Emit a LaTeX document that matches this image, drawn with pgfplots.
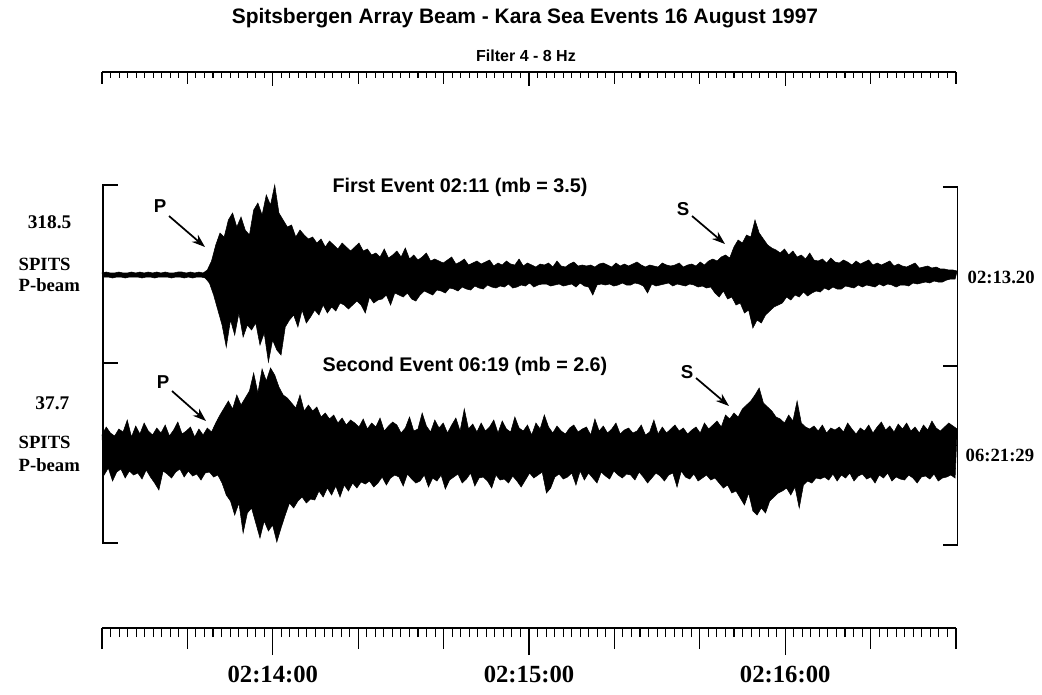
\documentclass[border=0pt]{standalone}
\usepackage{fontspec}
\setmainfont{Liberation Serif}
\newfontfamily\hv{Liberation Sans}
\usepackage{pgfplots}
\pgfplotsset{compat=1.18}
\usepackage{pgfplotstable}
\usepgfplotslibrary{fillbetween}
\usetikzlibrary{arrows.meta}

% signed amplitudes (px) of the envelope: positive = upward swing, negative = downward swing
% first event (trace starts 02:13:20)
\pgfplotstableread[row sep=\\]{a\\%
2\\-2\\3\\-2\\2\\-3\\2\\-2\\3\\-2\\%
2\\-3\\2\\-2\\3\\-2\\2\\-2\\3\\-3\\%
2\\-2\\3\\-2\\2\\-3\\3\\-2\\2\\-2\\%
3\\-2\\2\\-3\\2\\-2\\3\\-2\\3\\-3\\%
2\\-2\\3\\-3\\2\\-2\\3\\-2\\2\\-3\\%
5\\-8\\14\\-20\\30\\-35\\42\\-50\\38\\-72\\%
55\\-45\\62\\-60\\48\\-38\\58\\-62\\45\\-50\\%
40\\-55\\65\\-48\\72\\-70\\60\\-58\\80\\-87\\%
70\\-65\\90\\-75\\62\\-80\\55\\-52\\48\\-45\\%
50\\-40\\38\\-52\\45\\-35\\40\\-48\\36\\-42\\%
38\\-35\\32\\-40\\36\\-30\\28\\-38\\34\\-32\\%
30\\-36\\26\\-28\\32\\-30\\28\\-34\\24\\-30\\%
28\\-26\\32\\-30\\24\\-38\\26\\-22\\20\\-28\\%
22\\-25\\18\\-24\\26\\-20\\17\\-30\\20\\-18\\%
24\\-20\\18\\-22\\27\\-18\\16\\-24\\20\\-26\\%
15\\-20\\18\\-16\\22\\-18\\14\\-20\\16\\-15\\%
14\\-16\\12\\-18\\15\\-13\\18\\-14\\11\\-16\\%
13\\-12\\16\\-14\\10\\-15\\12\\-11\\14\\-13\\%
11\\-14\\13\\-10\\15\\-12\\9\\-13\\12\\-11\\%
10\\-12\\14\\-9\\11\\-13\\10\\-12\\16\\-10\\%
9\\-11\\12\\-8\\10\\-12\\8\\-10\\11\\-9\\%
10\\-9\\12\\-11\\8\\-10\\14\\-9\\9\\-11\\%
8\\-10\\11\\-9\\13\\-12\\9\\-8\\10\\-11\\%
9\\-12\\10\\-20\\8\\-10\\11\\-9\\12\\-10\\%
10\\-9\\8\\-11\\12\\-10\\9\\-8\\11\\-10\\%
9\\-10\\11\\-8\\13\\-9\\10\\-11\\8\\-18\\%
10\\-9\\9\\-11\\8\\-10\\12\\-9\\10\\-8\\%
9\\-11\\10\\-9\\12\\-10\\8\\-11\\10\\-9\\%
11\\-10\\9\\-12\\13\\-11\\10\\-13\\14\\-12\\%
16\\-18\\14\\-22\\18\\-16\\20\\-24\\17\\-22\\%
28\\-30\\35\\-28\\32\\-38\\40\\-35\\38\\-53\\%
55\\-45\\42\\-48\\36\\-40\\30\\-36\\27\\-32\\%
25\\-30\\22\\-28\\26\\-22\\20\\-25\\24\\-20\\%
18\\-22\\20\\-17\\16\\-21\\22\\-18\\15\\-16\\%
14\\-17\\16\\-13\\12\\-15\\17\\-12\\13\\-14\\%
12\\-14\\15\\-11\\13\\-12\\10\\-13\\14\\-10\\%
11\\-12\\13\\-10\\15\\-11\\10\\-12\\12\\-9\\%
10\\-11\\12\\-9\\14\\-10\\9\\-12\\11\\-10\\%
9\\-10\\8\\-11\\10\\-8\\12\\-9\\7\\-8\\%
8\\-7\\9\\-8\\7\\-6\\8\\-7\\6\\-7\\%
6\\-5\\5\\-4\\5\\-4\\4\\%
}\trA

% second event
\pgfplotstableread[row sep=\\]{a\\%
18\\-22\\26\\-15\\20\\-28\\17\\-19\\24\\-16\\%
21\\-25\\33\\-18\\16\\-22\\27\\-20\\19\\-26\\%
30\\-17\\22\\-24\\18\\-30\\25\\-37\\20\\-18\\%
28\\-21\\17\\-25\\23\\-19\\31\\-16\\19\\-24\\%
22\\-18\\26\\-23\\16\\-21\\24\\-27\\18\\-20\\%
25\\-19\\21\\-24\\30\\-22\\38\\-30\\45\\-42\\%
52\\-48\\44\\-62\\58\\-50\\48\\-80\\55\\-60\\%
62\\-55\\80\\-70\\60\\-85\\84\\-68\\72\\-78\\%
85\\-72\\78\\-89\\66\\-75\\58\\-62\\55\\-50\\%
50\\-55\\45\\-48\\58\\-44\\42\\-50\\48\\-46\\%
42\\-47\\46\\-38\\36\\-44\\40\\-35\\34\\-42\\%
38\\-33\\30\\-44\\35\\-32\\28\\-38\\33\\-30\\%
30\\-35\\26\\-29\\34\\-31\\24\\-28\\30\\-34\\%
26\\-30\\35\\-24\\22\\-32\\27\\-25\\31\\-22\\%
28\\-24\\20\\-33\\25\\-21\\36\\-26\\22\\-30\\%
24\\-28\\40\\-22\\27\\-34\\21\\-25\\33\\-28\\%
25\\-22\\30\\-36\\20\\-27\\28\\-24\\35\\-21\\%
22\\-30\\44\\-26\\24\\-20\\29\\-33\\21\\-25\\%
30\\-24\\22\\-28\\26\\-35\\33\\-22\\20\\-27\\%
32\\-26\\24\\-30\\21\\-23\\36\\-28\\25\\-34\\%
22\\-27\\28\\-20\\18\\-25\\30\\-22\\24\\-19\\%
38\\-40\\26\\-35\\20\\-24\\27\\-21\\22\\-26\\%
19\\-24\\25\\-20\\28\\-32\\21\\-18\\24\\-27\\%
26\\-20\\18\\-25\\34\\-30\\22\\-19\\27\\-23\\%
20\\-26\\24\\-18\\30\\-22\\19\\-25\\23\\-21\\%
25\\-22\\20\\-27\\22\\-19\\28\\-24\\18\\-30\\%
21\\-25\\33\\-20\\19\\-23\\26\\-28\\20\\-22\\%
24\\-20\\28\\-34\\22\\-18\\25\\-24\\19\\-26\\%
23\\-21\\26\\-28\\20\\-25\\30\\-22\\24\\-27\\%
28\\-25\\32\\-30\\26\\-35\\38\\-32\\34\\-40\\%
40\\-38\\36\\-45\\44\\-52\\48\\-40\\52\\-58\\%
58\\-62\\65\\-55\\50\\-60\\46\\-48\\42\\-44\\%
36\\-40\\34\\-38\\30\\-35\\38\\-42\\32\\-34\\%
52\\-55\\30\\-32\\26\\-28\\24\\-30\\27\\-25\\%
22\\-26\\28\\-24\\20\\-27\\25\\-21\\23\\-28\\%
26\\-22\\21\\-25\\30\\-20\\24\\-28\\19\\-23\\%
25\\-21\\22\\-26\\28\\-24\\20\\-30\\26\\-22\\%
31\\-25\\23\\-20\\27\\-28\\21\\-24\\29\\-26\\%
24\\-27\\30\\-22\\22\\-25\\26\\-30\\20\\-24\\%
28\\-23\\23\\-26\\32\\-21\\25\\-28\\22\\-25\\%
26\\-24\\30\\-22\\27\\-25\\24\\%
}\trB

\pgfplotsset{
  upper env/.style={draw=none, x filter/.code={\ifodd\coordindex\relax\def\pgfmathresult{}\fi}},
  lower env/.style={draw=none, x filter/.code={\ifodd\coordindex\relax\else\def\pgfmathresult{}\fi}},
}

\begin{document}
\begin{tikzpicture}
\path (0pt,0pt) rectangle (781.5pt,-520.5pt);

% bottom ruler + traces  (1 px = 0.75 pt; y data = -pixel row)
\begin{axis}[
  at={(76.5pt,-471pt)}, anchor=south west,
  scale only axis, width=640.5pt, height=417pt,
  xmin=0, xmax=200, ymin=-628, ymax=-72,
  clip=false, no markers,
  axis x line=bottom, axis y line=none,
  x axis line style={-, line width=1.1pt},
  xtick={0,20,...,200}, xticklabels={},
  minor x tick num=9,
  xtick align=outside,
  major tick length=15.75pt, minor tick length=6.75pt,
  every tick/.style={black, line width=0.8pt},
  extra x ticks={40,100,160}, extra x tick labels={},
  extra x tick style={major tick length=20.25pt},
]
% first event trace
\addplot[upper env, name path=aU] table[x index=0, y index=0, x expr=\coordindex*0.4933, y expr=-275+\thisrow{a}] {\trA};
\addplot[lower env, name path=aL] table[x index=0, y index=0, x expr=\coordindex*0.4933, y expr=-275+\thisrow{a}] {\trA};
\addplot[black, draw=black, line width=0.4pt] fill between[of=aU and aL];
% second event trace
\addplot[upper env, name path=bU] table[x index=0, y index=0, x expr=\coordindex*0.4933, y expr=-453+\thisrow{a}] {\trB};
\addplot[lower env, name path=bL] table[x index=0, y index=0, x expr=\coordindex*0.4933, y expr=-453+\thisrow{a}] {\trB};
\addplot[black, draw=black, line width=0.4pt] fill between[of=bU and bL];
% brackets
\addplot[black, line width=1pt] coordinates {(3.7,-185) (0.23,-185) (0.23,-543) (3.7,-543)};
\addplot[black, line width=1pt] coordinates {(0.23,-363) (3.7,-363)};
\addplot[black, line width=1pt] coordinates {(196.9,-187) (200.3,-187) (200.3,-545) (196.9,-545)};
\addplot[black, line width=1pt] coordinates {(200.3,-366) (196.9,-366)};
% time labels
\node[font=\bfseries\fontsize{18.5}{20}\selectfont] at (axis cs:40,-674) {02:14:00};
\node[font=\bfseries\fontsize{18.5}{20}\selectfont] at (axis cs:100,-674) {02:15:00};
\node[font=\bfseries\fontsize{18.5}{20}\selectfont] at (axis cs:160,-674) {02:16:00};
\end{axis}

% top ruler
\begin{axis}[
  at={(76.5pt,-471pt)}, anchor=south west,
  scale only axis, width=640.5pt, height=417pt,
  xmin=0, xmax=200, ymin=-628, ymax=-72,
  clip=false, no markers,
  axis x line=top, axis y line=none,
  x axis line style={-, line width=1.1pt},
  xtick={0,20,...,200}, xticklabels={},
  minor x tick num=9,
  xtick align=inside,
  major tick length=9pt, minor tick length=4.5pt,
  every tick/.style={black, line width=0.8pt},
  extra x ticks={40,100,160}, extra x tick labels={},
  extra x tick style={major tick length=10.5pt},
]
\addplot[draw=none] coordinates {(100,-300)};
\end{axis}

\begin{scope}[x=0.75pt, y=-0.75pt]
\node[font=\hv\bfseries\fontsize{15.7}{18}\selectfont] at (525,18) {Spitsbergen Array Beam - Kara Sea Events 16 August 1997};
\node[font=\hv\bfseries\fontsize{12}{14}\selectfont] at (526,56) {Filter 4 - 8 Hz};
\node[font=\hv\bfseries\fontsize{14.8}{17}\selectfont] at (460,187) {First Event 02:11 (mb = 3.5)};
\node[font=\hv\bfseries\fontsize{14.8}{17}\selectfont] at (465,366) {Second Event 06:19 (mb = 2.6)};
% left labels
\node[font=\bfseries\fontsize{14.5}{16}\selectfont, anchor=east] at (76,222) {318.5};
\node[font=\bfseries\fontsize{14}{16}\selectfont, anchor=west] at (14,264) {SPITS};
\node[font=\bfseries\fontsize{14}{16}\selectfont, anchor=west] at (14,285) {P-beam};
\node[font=\bfseries\fontsize{14.5}{16}\selectfont, anchor=east] at (74,403) {37.7};
\node[font=\bfseries\fontsize{14}{16}\selectfont, anchor=west] at (14,442) {SPITS};
\node[font=\bfseries\fontsize{14}{16}\selectfont, anchor=west] at (14,465) {P-beam};
% right labels
\node[font=\bfseries\fontsize{14}{16}\selectfont, anchor=west] at (963,277) {02:13.20};
\node[font=\bfseries\fontsize{14}{16}\selectfont, anchor=west] at (961,455) {06:21:29};
% phase labels and arrows
\node[font=\hv\bfseries\fontsize{14}{16}\selectfont] at (160,206) {P};
\node[font=\hv\bfseries\fontsize{14}{16}\selectfont] at (683,209) {S};
\node[font=\hv\bfseries\fontsize{14}{16}\selectfont] at (163,382) {P};
\node[font=\hv\bfseries\fontsize{14}{16}\selectfont] at (687,372) {S};
\draw[line width=1.3pt, -{Stealth[length=10pt,width=7pt]}] (169,216) -- (205,247);
\draw[line width=1.3pt, -{Stealth[length=10pt,width=7pt]}] (692,216) -- (725,244);
\draw[line width=1.3pt, -{Stealth[length=10pt,width=7pt]}] (172,391) -- (206,421);
\draw[line width=1.3pt, -{Stealth[length=10pt,width=7pt]}] (696,378) -- (729,406);
\end{scope}
\end{tikzpicture}
\end{document}
